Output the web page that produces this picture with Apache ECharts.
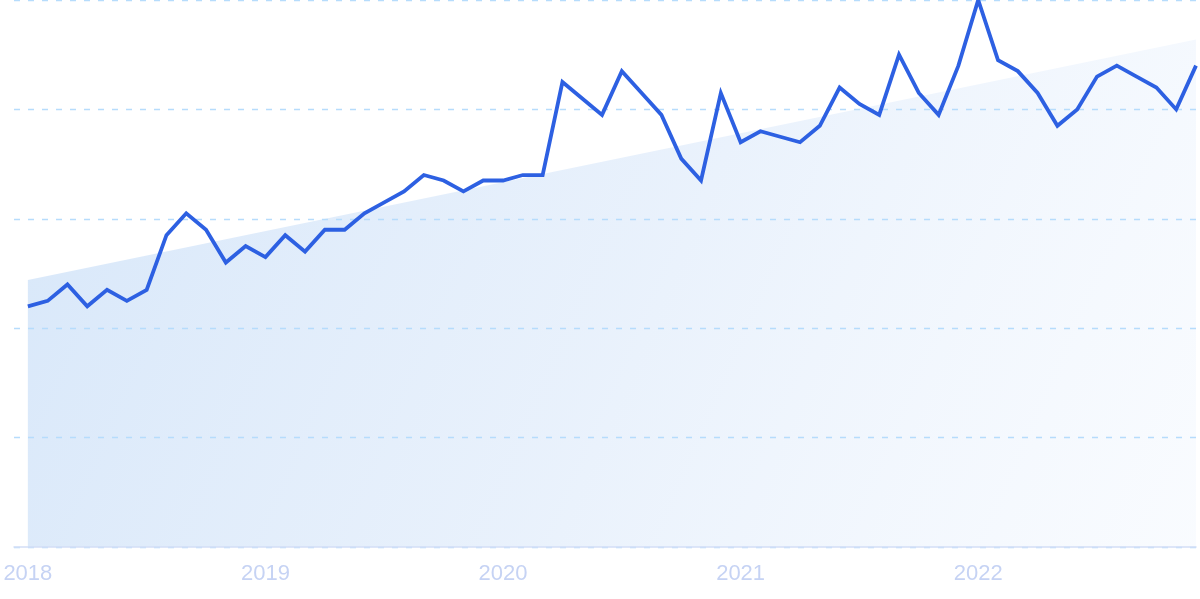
<!DOCTYPE html>
<html>
<head>
<meta charset="utf-8">
<script src="https://cdn.jsdelivr.net/npm/echarts@6/dist/echarts.min.js"></script>
<style>
html,body{margin:0;padding:0;background:#ffffff;}
#chart{width:1200px;height:599px;}
</style>
</head>
<body>
<div id="chart"></div>
<script>
// Monthly values, Jan 2018 .. Dec 2022
const months = ["2018-01","2018-02","2018-03","2018-04","2018-05","2018-06","2018-07","2018-08","2018-09","2018-10","2018-11","2018-12",
"2019-01","2019-02","2019-03","2019-04","2019-05","2019-06","2019-07","2019-08","2019-09","2019-10","2019-11","2019-12",
"2020-01","2020-02","2020-03","2020-04","2020-05","2020-06","2020-07","2020-08","2020-09","2020-10","2020-11","2020-12",
"2021-01","2021-02","2021-03","2021-04","2021-05","2021-06","2021-07","2021-08","2021-09","2021-10","2021-11","2021-12",
"2022-01","2022-02","2022-03","2022-04","2022-05","2022-06","2022-07","2022-08","2022-09","2022-10","2022-11","2022-12"];
const values = [44,45,48,44,47,45,47,57,61,58,52,55,
53,57,54,58,58,61,63,65,68,67,65,67,
67,68,68,85,82,79,87,83,79,71,67,83,
74,76,75,74,77,84,81,79,90,83,79,88,
100,89,87,83,77,80,86,88,86,84,80,88];
// Trend line endpoints (first month, last month)
const trendValues = [48.8, 92.8];
const yearLabels = ["2018","2019","2020","2021","2022"];
const yearTickIndex = [0,12,24,36,48];

const lineData = values.map((v,i)=>[i,v]);
const trendData = [[0,trendValues[0]],[values.length-1,trendValues[1]]];

const chart = echarts.init(document.getElementById('chart'), null, {renderer:'canvas'});
chart.setOption({
  animation:false,
  backgroundColor:'#ffffff',
  grid:{left:14,right:4,top:0,bottom:52,containLabel:false},
  xAxis:{
    type:'value',
    min:-0.7,
    max:values.length-1,
    z:2,
    axisLine:{show:true,lineStyle:{color:'#d3def6',width:1.5}},
    axisTick:{show:false},
    splitLine:{show:false},
    axisLabel:{
      show:true,
      customValues:yearTickIndex,
      formatter:function(v){const k=yearTickIndex.indexOf(Math.round(v));return k>=0?yearLabels[k]:'';},
      color:'#c6d3f4',
      fontSize:22,
      fontFamily:'"Liberation Sans", Arial, sans-serif',
      margin:16
    }
  },
  yAxis:{
    type:'value',
    min:0,max:100,interval:20,
    z:2,
    axisLine:{show:false},
    axisTick:{show:false},
    axisLabel:{show:false},
    splitLine:{show:true,lineStyle:{color:'#b6dcfc',type:[6,8],width:1.4}}
  },
  series:[
    {
      type:'line',
      data:trendData,
      showSymbol:false,
      lineStyle:{width:0},
      areaStyle:{
        color:new echarts.graphic.LinearGradient(0,0,1,1,[
          {offset:0,color:'rgba(190,216,246,0.62)'},
          {offset:0.5,color:'rgba(205,224,248,0.45)'},
          {offset:1,color:'rgba(235,243,254,0.3)'}
        ]),
        opacity:1
      },
      z:1,
      silent:true
    },
    {
      type:'line',
      data:lineData,
      showSymbol:false,
      smooth:false,
      lineStyle:{width:3.8,color:'#2d60e2',join:'miter'},
      z:3
    }
  ]
});
</script>
</body>
</html>
